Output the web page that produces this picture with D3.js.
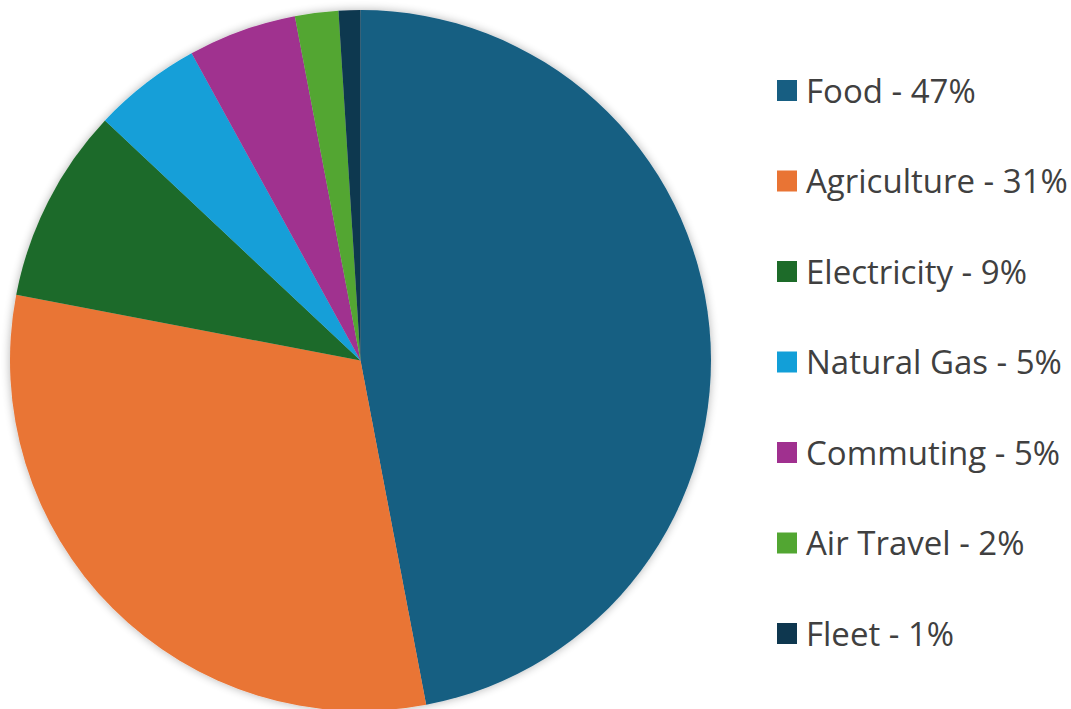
<!DOCTYPE html>
<html><head><meta charset="utf-8">
<script src="https://cdn.jsdelivr.net/npm/d3@7"></script>
<style>body{margin:0;background:#fff}svg{display:block}</style>
</head><body>
<script>
const categories = ["Food","Agriculture","Electricity","Natural Gas","Commuting","Air Travel","Fleet"];
const values = [47,31,9,5,5,2,1];
const colors = ["#175e82","#e97434","#1d6b29","#129fd8","#a0308f","#52a632","#0e374f"];

const W=1071,H=709;
const svg=d3.select("body").append("svg").attr("width",W).attr("height",H);
const defs=svg.append("defs");
const f=defs.append("filter").attr("id","sh").attr("x","-10%").attr("y","-10%").attr("width","120%").attr("height","120%");
f.append("feGaussianBlur").attr("in","SourceAlpha").attr("stdDeviation",5).attr("result","b");
f.append("feComponentTransfer").attr("in","b").attr("result","c").append("feFuncA").attr("type","linear").attr("slope",0.3);
const m=f.append("feMerge");m.append("feMergeNode").attr("in","c");m.append("feMergeNode").attr("in","SourceGraphic");

const cx=360.5,cy=360.5,r=350.5;
const pie=d3.pie().sort(null).value(d=>d)(values);
const arc=d3.arc().innerRadius(0).outerRadius(r);
const g=svg.append("g").attr("transform",`translate(${cx},${cy})`).attr("filter","url(#sh)");
g.selectAll("path").data(pie).join("path").attr("d",arc).attr("fill",(d,i)=>colors[i]);

const y=d3.scalePoint().domain(categories).range([90.5,633.5]);
const lg=svg.append("g");
const items=lg.selectAll("g").data(categories).join("g").attr("transform",d=>`translate(0,${y(d)})`);
items.append("rect").attr("x",777).attr("y",-10.5).attr("width",20).attr("height",21).attr("fill",(d,i)=>colors[i]);
items.append("text").attr("x",806).attr("y",12).attr("fill","#404040")
  .style("font-family","'Open Sans', sans-serif").style("font-size","33px")
  .text((d,i)=>`${d} - ${values[i]}%`);
</script>
</body></html>
